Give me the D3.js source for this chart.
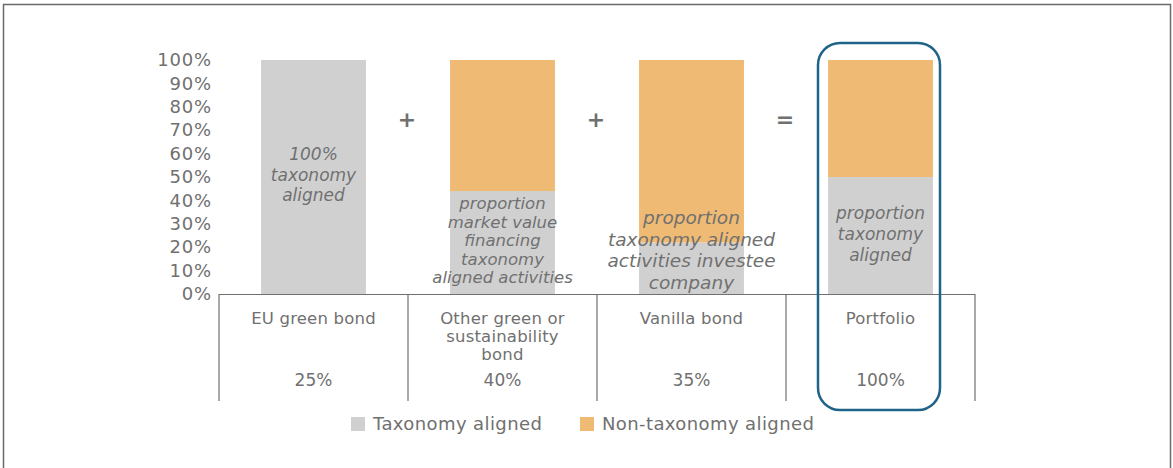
<!DOCTYPE html>
<html>
<head>
<meta charset="utf-8">
<script src="https://cdn.jsdelivr.net/npm/d3@7"></script>
<style>
  body { margin: 0; background: #fff; }
  svg text { font-family: "DejaVu Sans", Verdana, sans-serif; fill: #707070; }
</style>
</head>
<body>
<div id="chart"></div>
<script>
// chart values
var categories = ["EU green bond", "Other green or sustainability bond", "Vanilla bond", "Portfolio"];
var categoryLines = [["EU green bond"], ["Other green or", "sustainability", "bond"], ["Vanilla bond"], ["Portfolio"]];
var weights = ["25%", "40%", "35%", "100%"];
var aligned = [1.00, 0.44, 0.22, 0.50];
var nonAligned = [0.00, 0.56, 0.78, 0.50];
var barNotes = [
  ["100%", "taxonomy", "aligned"],
  ["proportion", "market value", "financing", "taxonomy", "aligned activities"],
  ["proportion", "taxonomy aligned", "activities investee", "company"],
  ["proportion", "taxonomy", "aligned"]
];
var operators = ["+", "+", "="];
var seriesNames = ["Taxonomy aligned", "Non-taxonomy aligned"];
var colors = ["#d0d0d0", "#efba73"];

var w = 1173, h = 468;

var svg = d3.select("#chart").append("svg")
  .attr("width", w)
  .attr("height", h);

// outer frame
svg.append("rect")
  .attr("x", 3.5).attr("y", 4.5)
  .attr("width", 1167).attr("height", 470)
  .attr("fill", "none")
  .attr("stroke", "#6a6a6a")
  .attr("stroke-width", 1.5);

var x = d3.scaleBand()
  .domain(categories)
  .range([219, 975])
  .padding(0);

var y = d3.scaleLinear()
  .domain([0, 1])
  .range([294, 60]);

var barW = x.bandwidth() * 0.555;

// stacked data
var rows = categories.map(function(c, i) {
  return { cat: c, aligned: aligned[i], non: nonAligned[i] };
});
var stack = d3.stack().keys(["aligned", "non"]);
var layers = stack(rows);

svg.append("g").selectAll("g")
  .data(layers)
  .enter().append("g")
  .attr("fill", function(d, i) { return colors[i]; })
  .selectAll("rect")
  .data(function(d) { return d; })
  .enter().append("rect")
  .attr("x", function(d) { return x(d.data.cat) + (x.bandwidth() - barW) / 2; })
  .attr("y", function(d) { return y(d[1]); })
  .attr("width", barW)
  .attr("height", function(d) { return y(d[0]) - y(d[1]); });

// y axis
var yAxis = d3.axisLeft(y)
  .ticks(10)
  .tickFormat(d3.format(".0%"))
  .tickSize(0)
  .tickPadding(0);

var gy = svg.append("g")
  .attr("transform", "translate(212,0)")
  .call(yAxis);
gy.select(".domain").remove();
gy.selectAll("text")
  .attr("font-size", 18)
  .attr("letter-spacing", 0.8)
  .attr("font-family", null)
  .attr("fill", null);

// notes inside bars
var noteStart = [160, 209, 224, 219];
var noteStep = [20.5, 18.5, 21.5, 21];
var noteSize = [17, 16.5, 18.5, 17];
categories.forEach(function(c, i) {
  var t = svg.append("text")
    .attr("text-anchor", "middle")
    .attr("font-size", noteSize[i])
    .attr("font-style", "italic");
  barNotes[i].forEach(function(line, k) {
    t.append("tspan")
      .attr("x", x(c) + x.bandwidth() / 2)
      .attr("y", noteStart[i] + k * noteStep[i])
      .text(line);
  });
});

// operators between bars
operators.forEach(function(op, i) {
  svg.append("text")
    .attr("x", x(categories[i + 1]) - 1)
    .attr("y", 127)
    .attr("text-anchor", "middle")
    .attr("font-size", 22)
    .attr("font-weight", "bold")
    .text(op);
});

// table under chart
var table = svg.append("g").attr("stroke", "#707070").attr("stroke-width", 1.2);
table.append("line")
  .attr("x1", x.range()[0]).attr("x2", x.range()[1])
  .attr("y1", y(0) + 0.5).attr("y2", y(0) + 0.5);
categories.concat([null]).forEach(function(c, i) {
  var xx = c ? x(c) : x.range()[1];
  table.append("line")
    .attr("x1", xx).attr("x2", xx)
    .attr("y1", y(0)).attr("y2", 401);
});

categories.forEach(function(c, i) {
  var t = svg.append("text")
    .attr("text-anchor", "middle")
    .attr("font-size", 16.5)
    .attr("letter-spacing", 0.2);
  categoryLines[i].forEach(function(line, k) {
    t.append("tspan")
      .attr("x", x(c) + x.bandwidth() / 2)
      .attr("y", 324 + k * 17.8)
      .text(line);
  });
  svg.append("text")
    .attr("x", x(c) + x.bandwidth() / 2)
    .attr("y", 386)
    .attr("text-anchor", "middle")
    .attr("font-size", 17)
    .text(weights[i]);
});

// highlight box around portfolio
svg.append("rect")
  .attr("x", 818).attr("y", 43)
  .attr("width", 122).attr("height", 367)
  .attr("rx", 22).attr("ry", 22)
  .attr("fill", "none")
  .attr("stroke", "#1f6388")
  .attr("stroke-width", 2.5);

// legend
var legendX = [351, 580];
seriesNames.forEach(function(name, i) {
  svg.append("rect")
    .attr("x", legendX[i]).attr("y", 417)
    .attr("width", 14).attr("height", 14)
    .attr("fill", colors[i]);
  svg.append("text")
    .attr("x", legendX[i] + 22)
    .attr("y", 430)
    .attr("font-size", 18)
    .attr("letter-spacing", 0.4)
    .text(name);
});
</script>
</body>
</html>
